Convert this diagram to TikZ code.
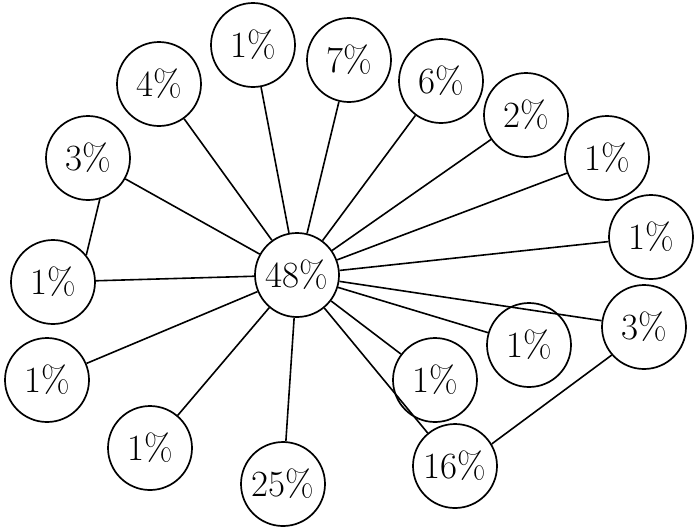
\documentclass[tikz,border=0pt]{standalone}
\begin{document}
\begin{tikzpicture}[x=1pt,y=-1pt,
  pct/.style={draw,circle,line width=1.7pt,minimum size=84pt,inner sep=0pt,font=\fontsize{37}{42}\selectfont},
  link/.style={line width=1.6pt}]
\useasboundingbox (0,0) rectangle (700,531);
\node[pct] (c)   at (297,275) {48\%};
\node[pct] (a4)  at (159,84)  {4\%};
\node[pct] (a1)  at (253,45)  {1\%};
\node[pct] (a7)  at (349,60)  {7\%};
\node[pct] (a6)  at (441,81)  {6\%};
\node[pct] (a2)  at (526,115) {2\%};
\node[pct] (r1a) at (607,158) {1\%};
\node[pct] (r1b) at (651,237) {1\%};
\node[pct] (r3)  at (644,327) {3\%};
\node[pct] (m1a) at (529,345) {1\%};
\node[pct] (m1b) at (435,380) {1\%};
\node[pct] (p16) at (455,466) {16\%};
\node[pct] (p25) at (283,484) {25\%};
\node[pct] (b1)  at (150,448) {1\%};
\node[pct] (l1b) at (47,380)  {1\%};
\node[pct] (l1)  at (53,282)  {1\%};
\node[pct] (l3)  at (88,158)  {3\%};
\foreach \n in {a4,a1,a7,a6,a2,r1a,r1b,r3,m1a,m1b,p16,p25,b1,l1b,l1,l3}
  \draw[link] (c) -- (\n);
\draw[link] (l3.-74) -- (l1.39);
\draw[link] (r3.221) -- (p16.31);
\end{tikzpicture}
\end{document}
